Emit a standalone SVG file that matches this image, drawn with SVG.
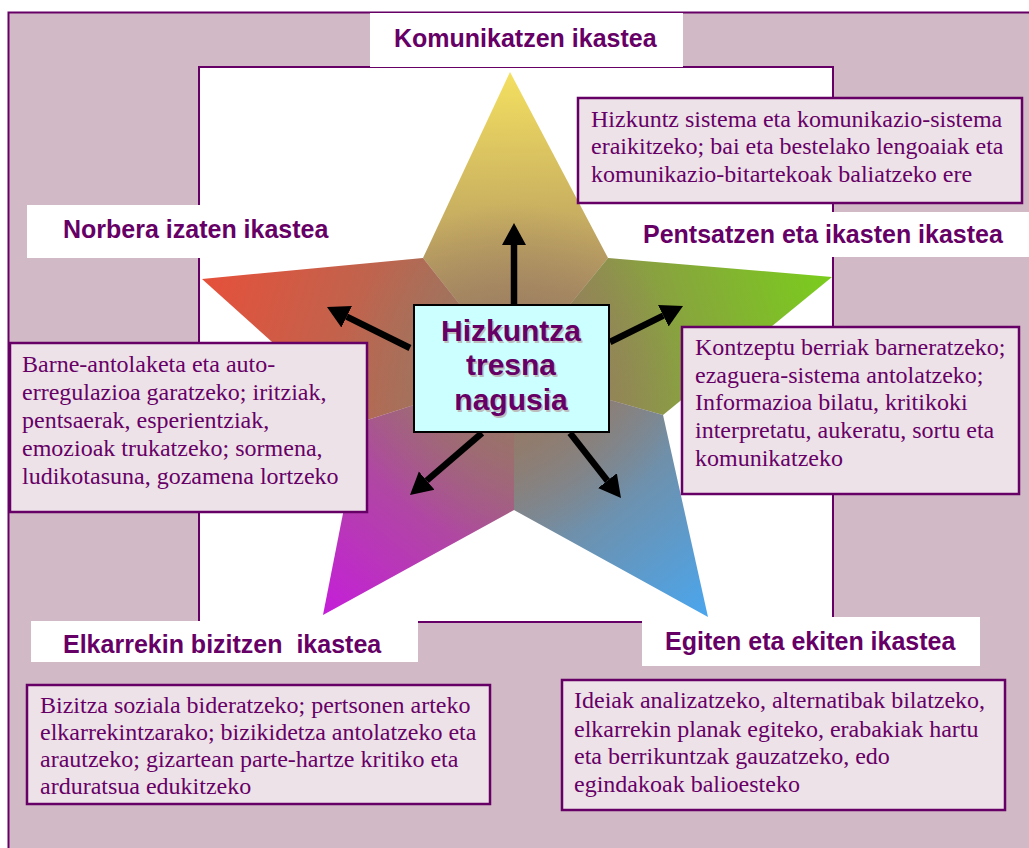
<svg xmlns="http://www.w3.org/2000/svg" width="1029" height="848" viewBox="0 0 1029 848">
<style>
.lbl{font-weight:bold;font-size:25px;fill:#660066;white-space:pre}
.desc{font-size:24px;fill:#660066}
.dbox{fill:#EEE2E9;stroke:#660066;stroke-width:2.5}
.wbox{fill:#FFFFFF;stroke:none}
.ctr{font-weight:bold;font-size:30px;text-anchor:middle}
.arr{stroke:#000;stroke-width:6.5;fill:none;marker-end:url(#ah)}
</style>
<defs>
<marker id="ah" markerUnits="userSpaceOnUse" markerWidth="24" markerHeight="26" viewBox="0 -13 24 26" refX="0" refY="0" orient="auto">
<path d="M0,-12 L22,0 L0,12 z" fill="#000"/>
</marker>
<linearGradient id="gTop" gradientUnits="userSpaceOnUse" x1="510" y1="72" x2="514" y2="373"><stop offset="0" stop-color="#F4E060"/><stop offset="1" stop-color="#977862"/></linearGradient>
<linearGradient id="gLeft" gradientUnits="userSpaceOnUse" x1="202" y1="279" x2="514" y2="373"><stop offset="0" stop-color="#E6503A"/><stop offset="1" stop-color="#977862"/></linearGradient>
<linearGradient id="gRight" gradientUnits="userSpaceOnUse" x1="832" y1="277" x2="514" y2="373"><stop offset="0" stop-color="#7ACD1C"/><stop offset="1" stop-color="#977862"/></linearGradient>
<linearGradient id="gBL" gradientUnits="userSpaceOnUse" x1="323" y1="615" x2="514" y2="373"><stop offset="0" stop-color="#C51ED9"/><stop offset="1" stop-color="#977862"/></linearGradient>
<linearGradient id="gBR" gradientUnits="userSpaceOnUse" x1="708" y1="617" x2="514" y2="373"><stop offset="0" stop-color="#4AA6EE"/><stop offset="1" stop-color="#977862"/></linearGradient>
<radialGradient id="gC" gradientUnits="userSpaceOnUse" cx="514" cy="373" r="170">
<stop offset="0" stop-color="#977862" stop-opacity="1"/>
<stop offset="0.45" stop-color="#977862" stop-opacity="0.55"/>
<stop offset="1" stop-color="#977862" stop-opacity="0"/>
</radialGradient>
<clipPath id="starClip"><polygon points="510,72 608,258 832,277 663,415 708,617 514,510 323,615 361,422 202,279 423,258"/></clipPath>
</defs>

<g id="frame">
<rect x="8.5" y="12.5" width="1030" height="850" fill="#D2B9C6" stroke="#660066" stroke-width="2"/>
<rect x="199" y="67" width="634" height="555" fill="#FFFFFF" stroke="#660066" stroke-width="2"/>
</g>

<g id="star">
<polygon points="510,72 608,258 514,373 423,258" fill="url(#gTop)"/>
<polygon points="202,279 423,258 514,373 361,422" fill="url(#gLeft)"/>
<polygon points="832,277 663,415 514,373 608,258" fill="url(#gRight)"/>
<polygon points="323,615 361,422 514,373 514,510" fill="url(#gBL)"/>
<polygon points="708,617 514,510 514,373 663,415" fill="url(#gBR)"/>
<circle cx="514" cy="373" r="170" fill="url(#gC)" clip-path="url(#starClip)"/>
</g>

<g font-family="Liberation Sans, Arial, sans-serif">
<g id="label-komunikatzen">
<rect class="wbox" x="370" y="13" width="313" height="54"/>
<text class="lbl" x="394" y="47">Komunikatzen ikastea</text>
</g>
<g id="label-norbera">
<rect class="wbox" x="27" y="205" width="330" height="53"/>
<text class="lbl" x="63" y="238">Norbera izaten ikastea</text>
</g>
<g id="label-pentsatzen">
<rect class="wbox" x="625" y="212" width="404" height="45"/>
<text class="lbl" x="643" y="243">Pentsatzen eta ikasten ikastea</text>
</g>
<g id="label-elkarrekin">
<rect class="wbox" x="31" y="621" width="387" height="41"/>
<text class="lbl" x="63" y="653" xml:space="preserve">Elkarrekin bizitzen  ikastea</text>
</g>
<g id="label-egiten">
<rect class="wbox" x="642" y="617" width="338" height="49"/>
<text class="lbl" x="665" y="650">Egiten eta ekiten ikastea</text>
</g>
</g>

<g font-family="Liberation Serif, Times New Roman, DejaVu Serif, serif">
<g id="desc-komunikatzen">
<rect class="dbox" x="578" y="98" width="444" height="105"/>
<text class="desc" x="591" y="127">Hizkuntz sistema eta komunikazio-sistema</text>
<text class="desc" x="591" y="154">eraikitzeko; bai eta bestelako lengoaiak eta</text>
<text class="desc" x="591" y="182">komunikazio-bitartekoak baliatzeko ere</text>
</g>
<g id="desc-norbera">
<rect class="dbox" x="10" y="343" width="357" height="169"/>
<text class="desc" x="22" y="372">Barne-antolaketa eta auto-</text>
<text class="desc" x="22" y="400">erregulazioa garatzeko; iritziak,</text>
<text class="desc" x="22" y="428">pentsaerak, esperientziak,</text>
<text class="desc" x="22" y="456">emozioak trukatzeko; sormena,</text>
<text class="desc" x="22" y="484">ludikotasuna, gozamena lortzeko</text>
</g>
<g id="desc-pentsatzen">
<rect class="dbox" x="682" y="327" width="337" height="167"/>
<text class="desc" x="695" y="355">Kontzeptu berriak barneratzeko;</text>
<text class="desc" x="695" y="383">ezaguera-sistema antolatzeko;</text>
<text class="desc" x="695" y="410">Informazioa bilatu, kritikoki</text>
<text class="desc" x="695" y="438">interpretatu, aukeratu, sortu eta</text>
<text class="desc" x="695" y="466">komunikatzeko</text>
</g>
<g id="desc-elkarrekin">
<rect class="dbox" x="27" y="685" width="463" height="119"/>
<text class="desc" x="40" y="713">Bizitza soziala bideratzeko; pertsonen arteko</text>
<text class="desc" x="40" y="740">elkarrekintzarako; bizikidetza antolatzeko eta</text>
<text class="desc" x="40" y="767">arautzeko; gizartean parte-hartze kritiko eta</text>
<text class="desc" x="40" y="794">arduratsua edukitzeko</text>
</g>
<g id="desc-egiten">
<rect class="dbox" x="562" y="680" width="443" height="130"/>
<text class="desc" x="574" y="708">Ideiak analizatzeko, alternatibak bilatzeko,</text>
<text class="desc" x="574" y="737">elkarrekin planak egiteko, erabakiak hartu</text>
<text class="desc" x="574" y="764">eta berrikuntzak gauzatzeko, edo</text>
<text class="desc" x="574" y="792">egindakoak balioesteko</text>
</g>
</g>

<g id="connectors">
<line class="arr" x1="514" y1="306" x2="514" y2="245"/>
<line class="arr" x1="410" y1="348" x2="346.7" y2="316.7"/>
<line class="arr" x1="610" y1="342" x2="663.3" y2="315.7"/>
<line class="arr" x1="482" y1="433" x2="426.7" y2="480.6"/>
<line class="arr" x1="570" y1="433" x2="607.4" y2="480.7"/>
</g>

<g id="node-center" font-family="Liberation Sans, Arial, sans-serif">
<rect x="414" y="305" width="195" height="127" fill="#CCFFFF" stroke="#000" stroke-width="2"/>
<g class="ctr" fill="#BDBDBD" transform="translate(1.5,1.5)">
<text x="511" y="341">Hizkuntza</text>
<text x="511" y="375">tresna</text>
<text x="511" y="410">nagusia</text>
</g>
<g class="ctr" fill="#660066">
<text x="511" y="341">Hizkuntza</text>
<text x="511" y="375">tresna</text>
<text x="511" y="410">nagusia</text>
</g>
</g>
</svg>
